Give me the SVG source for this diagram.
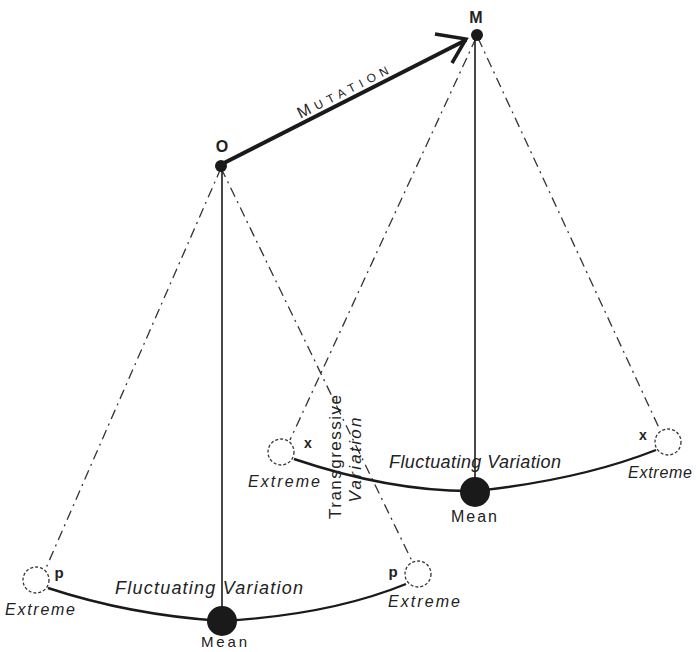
<svg xmlns="http://www.w3.org/2000/svg" width="696" height="652" viewBox="0 0 696 652">
<style>
.lbl{font-family:"Liberation Sans",Arial,sans-serif;fill:#222}
.it{font-style:italic}
.dd{fill:none;stroke:#333;stroke-width:1.3;stroke-dasharray:10 5 2 5}
.ring{fill:#fff;stroke:#333;stroke-width:1.3;stroke-dasharray:3 2}
.solid{fill:none;stroke:#1a1a1a;stroke-width:1.6}
.arc{fill:none;stroke:#1a1a1a;stroke-width:2.4}
.ball{fill:#1a1a1a}
</style>
<rect width="696" height="652" fill="#fff"/>
<g id="connectors">
  <line class="dd" x1="221" y1="168" x2="46" y2="568"/>
  <line class="dd" x1="221" y1="168" x2="412" y2="561"/>
  <line class="dd" x1="476" y1="38" x2="290" y2="440"/>
  <line class="dd" x1="478" y1="38" x2="660" y2="430"/>
  <line class="solid" x1="222" y1="168" x2="222" y2="610"/>
  <line class="solid" x1="475" y1="40" x2="475" y2="480"/>
  <path class="arc" d="M48,588 Q130,615 222,621 Q330,615 406,584"/>
  <path class="arc" d="M294,459 Q392,492 475,491 Q580,480 656,450"/>
  <g id="mutation">
    <line x1="222" y1="164" x2="466" y2="40" stroke="#1a1a1a" stroke-width="4"/>
    <polyline points="435,34 466,39 452,63" fill="none" stroke="#1a1a1a" stroke-width="3.5" stroke-linejoin="miter"/>
    <text class="lbl" x="345" y="96" font-size="16" text-anchor="middle" textLength="100" lengthAdjust="spacing" transform="rotate(-27 345 96)">M<tspan font-size="12">UTATION</tspan></text>
  </g>
</g>
<g id="O">
  <circle class="ball" cx="221" cy="166" r="6"/>
  <text class="lbl" x="222" y="152" font-size="16" font-weight="bold" text-anchor="middle">O</text>
</g>
<g id="M">
  <circle class="ball" cx="477" cy="35" r="6"/>
  <text class="lbl" x="476" y="23" font-size="16" font-weight="bold" text-anchor="middle">M</text>
</g>
<g id="left-extreme-left">
  <circle class="ring" cx="36" cy="580" r="13"/>
  <text class="lbl" x="59" y="578" font-size="15" font-weight="bold" text-anchor="middle">p</text>
  <text class="lbl it" x="40" y="615" font-size="16" text-anchor="middle" textLength="70" lengthAdjust="spacing">Extreme</text>
</g>
<g id="left-extreme-right">
  <circle class="ring" cx="418" cy="574" r="13"/>
  <text class="lbl" x="393" y="577" font-size="15" font-weight="bold" text-anchor="middle">p</text>
  <text class="lbl it" x="424" y="607" font-size="16" text-anchor="middle" textLength="72" lengthAdjust="spacing">Extreme</text>
</g>
<g id="left-mean">
  <circle class="ball" cx="222" cy="621" r="15"/>
  <text class="lbl" x="224" y="647" font-size="15" text-anchor="middle" textLength="46" lengthAdjust="spacing">Mean</text>
  <text class="lbl it" x="209" y="594" font-size="18" text-anchor="middle" textLength="188" lengthAdjust="spacing">Fluctuating Variation</text>
</g>
<g id="right-extreme-left">
  <circle class="ring" cx="281" cy="452" r="13"/>
  <text class="lbl" x="308" y="448" font-size="14" font-weight="bold" text-anchor="middle">x</text>
  <text class="lbl it" x="284" y="487" font-size="16" text-anchor="middle" textLength="72" lengthAdjust="spacing">Extreme</text>
</g>
<g id="right-extreme-right">
  <circle class="ring" cx="668" cy="442" r="13"/>
  <text class="lbl" x="643" y="440" font-size="14" font-weight="bold" text-anchor="middle">x</text>
  <text class="lbl it" x="660" y="478" font-size="16" text-anchor="middle" textLength="64" lengthAdjust="spacing">Extreme</text>
</g>
<g id="right-mean">
  <circle class="ball" cx="475" cy="492" r="15"/>
  <text class="lbl" x="474" y="522" font-size="16" text-anchor="middle" textLength="46" lengthAdjust="spacing">Mean</text>
  <text class="lbl it" x="475" y="468" font-size="18" text-anchor="middle" textLength="172" lengthAdjust="spacing">Fluctuating Variation</text>
</g>
<g id="transgressive">
  <text class="lbl" x="0" y="0" font-size="17" text-anchor="middle" textLength="124" lengthAdjust="spacing" transform="translate(341 457) rotate(-90)">Transgressive</text>
  <text class="lbl it" x="0" y="0" font-size="17" text-anchor="middle" textLength="85" lengthAdjust="spacing" transform="translate(361 460) rotate(-90)">Variation</text>
</g>
</svg>
